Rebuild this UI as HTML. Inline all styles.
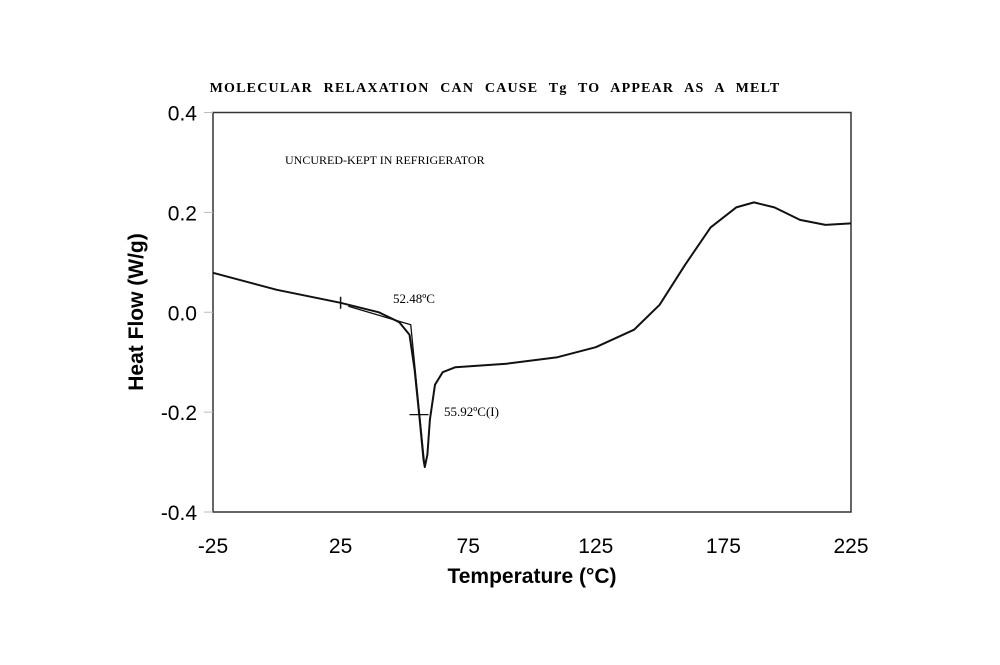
<!DOCTYPE html>
<html><head><meta charset="utf-8"><style>
body{margin:0;background:#fff;}
svg{display:block;font-family:"Liberation Sans",Arial,sans-serif;}
</style></head><body>
<svg id="chart" width="1000" height="665" viewBox="0 0 1000 665">
<text x="495" y="92" text-anchor="middle" font-family="Liberation Serif" font-weight="bold" font-size="14" letter-spacing="1.2" word-spacing="6">MOLECULAR RELAXATION CAN CAUSE Tg TO APPEAR AS A MELT</text>
<rect x="213" y="112.5" width="638" height="399.5" fill="none" stroke="#333" stroke-width="1.5"/>
<g id="yt"></g>
<g id="xt"></g>
<text x="285" y="164" font-family="Liberation Serif" font-size="12">UNCURED-KEPT IN REFRIGERATOR</text>
<text transform="translate(143,312) rotate(-90)" text-anchor="middle" font-weight="bold" font-size="21">Heat Flow (W/g)</text>
<text x="532" y="583" text-anchor="middle" font-weight="bold" font-size="21">Temperature (°C)</text>
<g id="series"></g>
<text x="393" y="303" font-family="Liberation Serif" font-size="13">52.48ºC</text>
<text x="444" y="416" font-family="Liberation Serif" font-size="13">55.92ºC(I)</text>
</svg>
<script>
const temps=[-25,0,25,40,48,52,54,56,57.5,58,59,60,62,65,70,90,110,125,140,150,160,170,180,187,195,205,215,225];
const flow=[0.079,0.045,0.019,0.0,-0.02,-0.045,-0.115,-0.215,-0.295,-0.31,-0.285,-0.215,-0.145,-0.12,-0.11,-0.103,-0.09,-0.07,-0.035,0.015,0.095,0.17,0.21,0.22,0.21,0.185,0.175,0.178];
const xTicks=[-25,25,75,125,175,225];
const yTicks=[0.4,0.2,0.0,-0.2,-0.4];
const yTickLabels=["0.4","0.2","0.0","-0.2","-0.4"];
const onsetLine=[[28,0.012],[52.48,-0.025],[58,-0.31]];
const onsetTick=25, inflectT=55.92, inflectF=-0.205;
const X=t=>213+(t+25)*638/250, Y=v=>312.25-v*499.375;
const NS="http://www.w3.org/2000/svg";
function mk(tag,attrs,parent){const e=document.createElementNS(NS,tag);for(const k in attrs)e.setAttribute(k,attrs[k]);parent.appendChild(e);return e;}
const yt=document.getElementById('yt'),xt=document.getElementById('xt'),s=document.getElementById('series');
yTicks.forEach((v,i)=>{
 const l=mk('line',{x1:204,x2:213,y1:Y(v),y2:Y(v),stroke:'#bbb'},yt);
 
 
 const t=mk('text',{x:197,y:Y(v)+8,'text-anchor':'end','font-size':21},yt);t.textContent=yTickLabels[i];
 
 
});
xTicks.forEach(v=>{
 const t=mk('text',{x:X(v),y:553,'text-anchor':'middle','font-size':21},xt);t.textContent=v;
 
 
});
let d='';temps.forEach((t,i)=>{d+=(i?' L':'M')+X(t).toFixed(1)+','+Y(flow[i]).toFixed(1);});
const p=mk('path',{d:d,fill:'none',stroke:'#111','stroke-width':2,'stroke-linejoin':'round'},s);


let d2='';onsetLine.forEach((q,i)=>{d2+=(i?' L':'M')+X(q[0])+','+Y(q[1]);});
const p2=mk('path',{d:d2,fill:'none',stroke:'#111','stroke-width':1.3},s);


const fi=temps.indexOf(onsetTick);
const tk=mk('line',{x1:X(onsetTick),x2:X(onsetTick),y1:Y(flow[fi])-6,y2:Y(flow[fi])+6,stroke:'#111','stroke-width':1.5},s);


const cr=mk('line',{x1:X(inflectT)-10,x2:X(inflectT)+9,y1:Y(inflectF),y2:Y(inflectF),stroke:'#111','stroke-width':1.3},s);


</script>
</body></html>
